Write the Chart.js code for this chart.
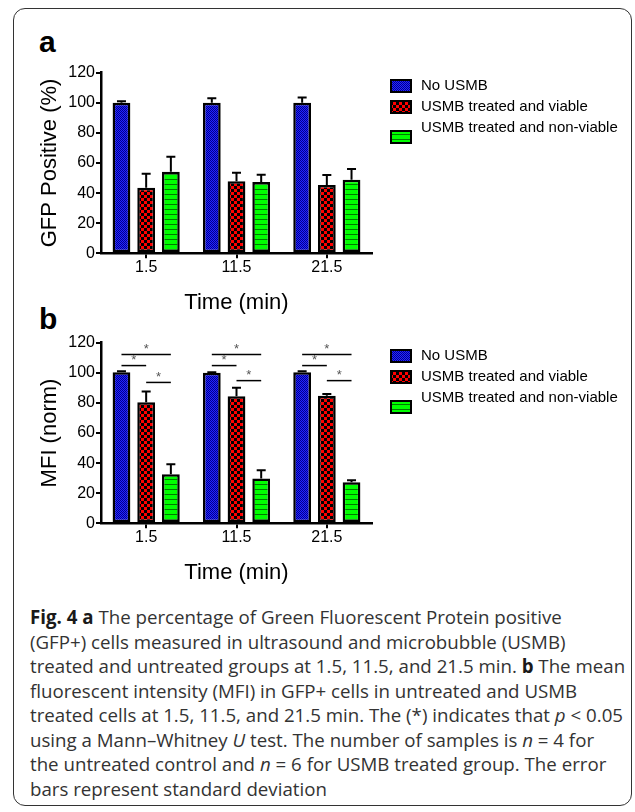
<!DOCTYPE html>
<html>
<head>
<meta charset="utf-8">
<script src="https://cdn.jsdelivr.net/npm/chart.js@4.4.1/dist/chart.umd.min.js"></script>
<style>
  body { margin: 0; background: #fff; width: 635px; height: 812px; position: relative; overflow: hidden; }
  .frame { position: absolute; left: 13px; top: 8px; width: 617px; height: 796px; border: 1.5px solid #333; border-radius: 12px; }
  .tag { position: absolute; left: 39px; font: bold 30px/30px "Liberation Sans", Arial, sans-serif; color: #000; }
  canvas { position: absolute; left: 0; }
  .caption { position: absolute; left: 30px; top: 605px; font-family: "Open Sans", sans-serif; font-size: 18.7px; line-height: 24.5px; color: #333; white-space: nowrap; }
  .caption b { color: #1a1a1a; }
</style>
</head>
<body>
<div class="frame"></div>
<div class="tag" style="top:27px">a</div>
<div class="tag" style="top:304px">b</div>
<canvas id="gfp" width="635" height="260" style="top:60px"></canvas>
<canvas id="mfi" width="635" height="260" style="top:330px"></canvas>
<div class="caption">
<b>Fig. 4 a</b> The percentage of Green Fluorescent Protein positive<br>
(GFP+) cells measured in ultrasound and microbubble (USMB)<br>
treated and untreated groups at 1.5, 11.5, and 21.5 min. <b>b</b> The mean<br>
fluorescent intensity (MFI) in GFP+ cells in untreated and USMB<br>
treated cells at 1.5, 11.5, and 21.5 min. The (*) indicates that <i>p</i> &lt; 0.05<br>
using a Mann–Whitney <i>U</i> test. The number of samples is <i>n</i> = 4 for<br>
the untreated control and <i>n</i> = 6 for USMB treated group. The error<br>
bars represent standard deviation
</div>
<script>
// data
var timeLabels = ['1.5', '11.5', '21.5'];
var seriesNames = ['No USMB', 'USMB treated and viable', 'USMB treated and non-viable'];
var yTicks = [0, 20, 40, 60, 80, 100, 120];

// panel a: GFP positive (%)
var gfpNoUsmb = [100, 100, 100];
var gfpNoUsmbSd = [1, 3, 3.5];
var gfpViable = [43.6, 47.8, 45.4];
var gfpViableSd = [9.3, 5.8, 6.6];
var gfpNonViable = [54.2, 47.4, 48.9];
var gfpNonViableSd = [10, 4.8, 7.1];

// panel b: MFI (norm)
var mfiNoUsmb = [100.3, 100, 100.3];
var mfiNoUsmbSd = [0.8, 0.3, 0.8];
var mfiViable = [80.5, 84.5, 84.7];
var mfiViableSd = [7, 5.6, 1.2];
var mfiNonViable = [32.6, 29.7, 27.2];
var mfiNonViableSd = [6.7, 5.6, 1.4];

// significance brackets in panel b: [time index, from series, to series, y value]
var mfiBrackets = [
  [0, 0, 2, 112.2], [0, 0, 1, 104.8], [0, 1, 2, 93.6],
  [1, 0, 2, 112.2], [1, 0, 1, 104.8], [1, 1, 2, 94.8],
  [2, 0, 2, 112.2], [2, 0, 1, 104.8], [2, 1, 2, 94.8]
];

Chart.defaults.font.family = '"Liberation Sans", Arial, sans-serif';
Chart.defaults.color = '#000';

function makePattern(w, h, draw) {
  var c = document.createElement('canvas');
  c.width = w; c.height = h;
  var g = c.getContext('2d');
  draw(g);
  return g.createPattern(c, 'repeat');
}
var bluePat = makePattern(2, 2, function (g) {
  g.fillStyle = '#2424ff'; g.fillRect(0, 0, 2, 2);
  g.fillStyle = '#000090'; g.fillRect(0, 0, 1, 1); g.fillRect(1, 1, 1, 1);
});
var redPat = makePattern(6, 6, function (g) {
  g.fillStyle = '#ff0000'; g.fillRect(0, 0, 6, 6);
  g.fillStyle = '#000'; g.fillRect(0, 0, 3, 3); g.fillRect(3, 3, 3, 3);
});
var greenPat = makePattern(4, 5, function (g) {
  g.fillStyle = '#00ff00'; g.fillRect(0, 0, 4, 5);
  g.fillStyle = '#007a00'; g.fillRect(0, 4, 4, 1);
});
var fills = [bluePat, redPat, greenPat];

var errorBars = {
  id: 'errorBars',
  afterDatasetsDraw: function (chart) {
    var ctx = chart.ctx, y = chart.scales.y;
    ctx.save();
    ctx.strokeStyle = '#000';
    ctx.lineWidth = 2;
    chart.data.datasets.forEach(function (ds, i) {
      chart.getDatasetMeta(i).data.forEach(function (bar, j) {
        var top = y.getPixelForValue(ds.data[j] + ds.sd[j]);
        ctx.beginPath();
        ctx.moveTo(bar.x, bar.y);
        ctx.lineTo(bar.x, top);
        ctx.moveTo(bar.x - 4.5, top);
        ctx.lineTo(bar.x + 4.5, top);
        ctx.stroke();
      });
    });
    ctx.restore();
  }
};

var brackets = {
  id: 'brackets',
  afterDatasetsDraw: function (chart, args, opts) {
    if (!opts.list) return;
    var ctx = chart.ctx, y = chart.scales.y;
    ctx.save();
    opts.list.forEach(function (b) {
      var x1 = chart.getDatasetMeta(b[1]).data[b[0]].x;
      var x2 = chart.getDatasetMeta(b[2]).data[b[0]].x;
      var py = y.getPixelForValue(b[3]);
      ctx.strokeStyle = '#000';
      ctx.lineWidth = 1.5;
      ctx.beginPath();
      ctx.moveTo(x1, py);
      ctx.lineTo(x2, py);
      ctx.stroke();
      ctx.fillStyle = '#555';
      ctx.font = '13px "Liberation Sans", Arial, sans-serif';
      ctx.textAlign = 'center';
      ctx.textBaseline = 'middle';
      ctx.fillText('*', (x1 + x2) / 2, py - 5);
    });
    ctx.restore();
  }
};

var sideLegend = {
  id: 'sideLegend',
  afterDraw: function (chart) {
    var ctx = chart.ctx;
    var boxY = [26, 47, 77], textY = [26, 47, 68];
    ctx.save();
    chart.data.datasets.forEach(function (ds, i) {
      ctx.fillStyle = ds.backgroundColor;
      ctx.fillRect(391, boxY[i] - 6, 20, 12);
      ctx.strokeStyle = '#000';
      ctx.lineWidth = 2;
      ctx.strokeRect(391, boxY[i] - 6, 20, 12);
      ctx.fillStyle = '#000';
      ctx.font = '15px "Liberation Sans", Arial, sans-serif';
      ctx.textAlign = 'left';
      ctx.textBaseline = 'middle';
      ctx.fillText(ds.label, 421, textY[i]);
    });
    ctx.restore();
  }
};

function makeChart(id, yTitle, values, sds, bracketList) {
  var datasets = values.map(function (v, i) {
    return {
      label: seriesNames[i],
      data: v,
      sd: sds[i],
      backgroundColor: fills[i],
      borderColor: '#000',
      borderWidth: 2.5,
      borderSkipped: false,
      barPercentage: 0.72,
      categoryPercentage: 0.82
    };
  });
  return new Chart(document.getElementById(id), {
    type: 'bar',
    data: { labels: timeLabels, datasets: datasets },
    options: {
      responsive: false,
      animation: false,
      devicePixelRatio: 1,
      layout: { padding: { left: 33, right: 263, top: 12.7, bottom: 0 } },
      scales: {
        x: {
          grid: { display: true, drawOnChartArea: false, offset: false, color: '#000', lineWidth: 2, tickLength: 5 },
          border: { display: true, color: '#000', width: 2.5 },
          ticks: { font: { size: 16 }, padding: 0 },
          title: { display: true, text: 'Time (min)', font: { size: 22 } },
          afterFit: function (s) { s.height = 66.7; }
        },
        y: {
          min: 0,
          max: 120,
          afterBuildTicks: function (s) { s.ticks = yTicks.map(function (v) { return { value: v }; }); },
          grid: { display: true, drawOnChartArea: false, color: '#000', lineWidth: 2, tickLength: 5 },
          border: { display: true, color: '#000', width: 2.5 },
          ticks: { font: { size: 16 }, padding: 1 },
          title: { display: true, text: yTitle, font: { size: 22 } },
          afterFit: function (s) { s.width = 68; }
        }
      },
      plugins: {
        legend: { display: false },
        tooltip: { enabled: false },
        brackets: { list: bracketList }
      }
    },
    plugins: [errorBars, brackets, sideLegend]
  });
}

makeChart('gfp', 'GFP Positive (%)',
  [gfpNoUsmb, gfpViable, gfpNonViable],
  [gfpNoUsmbSd, gfpViableSd, gfpNonViableSd], null);
makeChart('mfi', 'MFI (norm)',
  [mfiNoUsmb, mfiViable, mfiNonViable],
  [mfiNoUsmbSd, mfiViableSd, mfiNonViableSd], mfiBrackets);
</script>
</body>
</html>
